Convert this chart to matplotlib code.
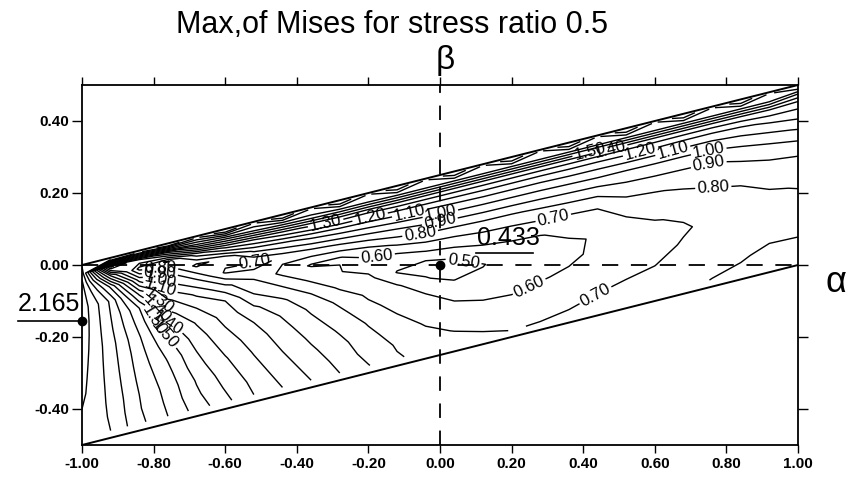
import numpy as np
import matplotlib
matplotlib.use("Agg")
import matplotlib.pyplot as plt

plt.rcParams['font.family'] = ['Liberation Sans', 'DejaVu Sans']

# ---------------- data ----------------
# grid nodes: alpha (columns) and relative height v across the strip
# (v = 0 lower edge, v = 1 upper edge; beta = (alpha - 1)/4 + v/2)
alpha_nodes = [-1.00, -0.92, -0.84, -0.76, -0.68, -0.60, -0.52, -0.44, -0.36,
               -0.28, -0.20, -0.12, -0.04, 0.04, 0.12, 0.20, 0.28, 0.36,
               0.44, 0.52, 0.60, 0.68, 0.76, 0.84, 0.92, 1.00]
v_nodes = [0.04, 0.12, 0.20, 0.28, 0.36, 0.44, 0.52, 0.60, 0.68, 0.76,
           0.84, 0.90, 0.95, 0.99]

# estimated Mises values, one list per alpha column (bottom -> top)
mises_by_alpha = [
    [2.06, 2.08, 2.10, 2.12, 2.13, 2.14, 2.15, 2.16, 2.165, 2.16, 2.15, 2.12, 2.06, 2.00],
    [2.00, 1.99, 1.98, 1.97, 1.96, 1.95, 1.94, 1.92, 1.90, 1.88, 1.68, 1.30, 0.78, 1.90],
    [1.83, 1.81, 1.80, 1.78, 1.76, 1.74, 1.71, 1.66, 1.60, 1.38, 1.05, 0.76, 1.00, 1.78],
    [1.70, 1.68, 1.66, 1.63, 1.59, 1.53, 1.45, 1.34, 1.22, 1.05, 0.89, 0.69, 1.20, 1.98],
    [1.56, 1.52, 1.49, 1.44, 1.40, 1.35, 1.29, 1.20, 1.08, 0.90, 0.67, 0.95, 1.47, 1.78],
    [1.43, 1.39, 1.35, 1.31, 1.26, 1.21, 1.16, 1.10, 0.93, 0.685, 0.74, 1.13, 1.55, 1.98],
    [1.30, 1.27, 1.23, 1.19, 1.15, 1.10, 1.02, 0.90, 0.80, 0.655, 0.92, 1.20, 1.60, 1.78],
    [1.20, 1.16, 1.12, 1.08, 1.04, 0.99, 0.92, 0.80, 0.67, 0.725, 0.98, 1.27, 1.65, 1.98],
    [1.10, 1.06, 1.02, 0.98, 0.93, 0.88, 0.80, 0.68, 0.59, 0.775, 1.04, 1.32, 1.68, 1.78],
    [1.00, 0.965, 0.93, 0.885, 0.835, 0.775, 0.68, 0.605, 0.595, 0.815, 1.08, 1.35, 1.70, 1.98],
    [0.905, 0.86, 0.83, 0.79, 0.73, 0.68, 0.63, 0.55, 0.65, 0.86, 1.10, 1.34, 1.70, 1.78],
    [0.81, 0.79, 0.75, 0.705, 0.66, 0.615, 0.495, 0.55, 0.72, 0.90, 1.12, 1.36, 1.72, 1.98],
    [0.77, 0.73, 0.69, 0.645, 0.60, 0.51, 0.455, 0.607, 0.765, 0.93, 1.13, 1.36, 1.72, 1.78],
    [0.745, 0.695, 0.65, 0.60, 0.54, 0.45, 0.51, 0.633, 0.775, 0.95, 1.14, 1.36, 1.72, 1.98],
    [0.715, 0.675, 0.625, 0.58, 0.53, 0.495, 0.56, 0.665, 0.79, 0.96, 1.15, 1.36, 1.72, 1.78],
    [0.698, 0.667, 0.618, 0.577, 0.53, 0.55, 0.585, 0.675, 0.795, 0.965, 1.15, 1.36, 1.72, 1.98],
    [0.702, 0.675, 0.63, 0.595, 0.565, 0.56, 0.595, 0.69, 0.808, 0.97, 1.15, 1.36, 1.72, 1.78],
    [0.71, 0.685, 0.645, 0.61, 0.585, 0.585, 0.627, 0.70, 0.82, 0.98, 1.16, 1.36, 1.72, 1.98],
    [0.72, 0.70, 0.67, 0.64, 0.615, 0.61, 0.64, 0.707, 0.83, 0.99, 1.16, 1.36, 1.72, 1.78],
    [0.74, 0.715, 0.685, 0.66, 0.635, 0.645, 0.71, 0.78, 0.87, 0.99, 1.17, 1.36, 1.72, 1.98],
    [0.76, 0.73, 0.698, 0.67, 0.662, 0.695, 0.74, 0.795, 0.88, 0.995, 1.17, 1.36, 1.72, 1.78],
    [0.78, 0.76, 0.735, 0.708, 0.69, 0.712, 0.765, 0.81, 0.885, 0.995, 1.16, 1.36, 1.72, 1.98],
    [0.802, 0.775, 0.752, 0.73, 0.722, 0.745, 0.785, 0.825, 0.89, 1.00, 1.16, 1.36, 1.72, 1.78],
    [0.81, 0.795, 0.77, 0.75, 0.748, 0.77, 0.80, 0.855, 0.92, 1.03, 1.18, 1.37, 1.72, 1.98],
    [0.825, 0.81, 0.79, 0.768, 0.768, 0.79, 0.83, 0.88, 0.95, 1.07, 1.22, 1.39, 1.72, 1.78],
    [0.83, 0.808, 0.79, 0.776, 0.78, 0.805, 0.845, 0.895, 0.985, 1.11, 1.25, 1.36, 1.60, 1.90],
]

levels = [0.50, 0.60, 0.70, 0.80, 0.90, 1.00, 1.10, 1.20, 1.30, 1.40,
          1.50, 1.60, 1.70, 1.80, 1.90, 2.00, 2.10]

x_ticks = [-1.0, -0.8, -0.6, -0.4, -0.2, 0.0, 0.2, 0.4, 0.6, 0.8, 1.0]
y_ticks = [0.4, 0.2, 0.0, -0.2, -0.4]

peak_alpha = [0.0, -1.0]
peak_beta = [0.0, -0.156]
peak_value = [0.433, 2.165]

title_text = "Max,of Mises for stress ratio 0.5"

# ---------------- layout ----------------
label_positions = [
    (0.066, 0.012), (-0.176, 0.022), (0.251, -0.064), (-0.517, 0.005),
    (0.316, 0.133), (0.447, -0.106), (-0.056, 0.092), (0.763, 0.222),
    (0.0, 0.119), (0.0, 0.147), (-0.084, 0.142), (-0.196, 0.136),
    (-0.32, 0.119), (0.75, 0.283), (0.75, 0.319), (0.648, 0.325),
    (0.559, 0.319), (0.475, 0.319), (0.419, 0.314),
    (-0.782, -0.003), (-0.782, -0.025), (-0.782, -0.047), (-0.782, -0.069),
    (-0.782, -0.094), (-0.782, -0.117), (-0.782, -0.142), (-0.782, -0.167),
    (-0.782, -0.194),
]

fig = plt.figure(figsize=(8.49, 4.80), dpi=100)
ax = fig.add_axes([82 / 849, 1 - 445 / 480, (798 - 82) / 849, (445 - 85) / 480])

A = np.array(alpha_nodes)[None, :] * np.ones((len(v_nodes), 1))
V = np.array(v_nodes)[:, None] * np.ones((1, len(alpha_nodes)))
B = (A - 1.0) / 4.0 + V / 2.0
Z = np.array(mises_by_alpha).T

cs = ax.contour(A, B, Z, levels=levels, colors='k', linewidths=1.0,
                linestyles='solid')
ax.clabel(cs, fmt='%.2f', fontsize=12, inline=True, inline_spacing=2,
          manual=label_positions)

# domain edges
a_edge = np.array([alpha_nodes[0], alpha_nodes[-1]])
ax.plot(a_edge, (a_edge + 1.0) / 4.0, color='k', lw=1.4)
ax.plot(a_edge, (a_edge - 1.0) / 4.0, color='k', lw=1.4)

# dashed axes through origin
ax.axhline(0.0, color='k', lw=1.3, ls=(0, (9, 7)))
ax.axvline(0.0, color='k', lw=1.3, ls=(0, (8, 7)))

# marked extreme points
ax.plot(peak_alpha, peak_beta, 'o', color='k', ms=6, clip_on=False, zorder=5)
# min
ax.text(peak_alpha[0] + 0.19, peak_beta[0] + 0.075, f"{peak_value[0]:.3f}",
        fontsize=18, ha='center', va='center')
ax.plot([peak_alpha[0] + 0.10, peak_alpha[0] + 0.26],
        [peak_beta[0] + 0.033, peak_beta[0] + 0.033], color='k', lw=1.2)
# max
ax.text(peak_alpha[1] - 0.092, peak_beta[1] + 0.048, f"{peak_value[1]:.3f}",
        fontsize=18, ha='center', va='center', clip_on=False)
ax.plot([peak_alpha[1] - 0.18, peak_alpha[1]], [peak_beta[1], peak_beta[1]],
        color='k', lw=1.2, clip_on=False)

ax.set_xlim(-1.0, 1.0)
ax.set_ylim(-0.5, 0.5)
ax.set_xticks(x_ticks)
ax.set_xticklabels([f"{t:.2f}" if abs(t) > 1e-9 else "0.00" for t in x_ticks],
                   fontweight='bold', fontsize=11)
ax.set_yticks(y_ticks)
ax.set_yticklabels([f"{t:.2f}" if abs(t) > 1e-9 else "0.00" for t in y_ticks],
                   fontweight='bold', fontsize=11)
ax.tick_params(axis='x', direction='out', top=True, length=6, width=1.0, pad=3)
ax.tick_params(axis='y', direction='out', right=True, length=7, width=1.0, pad=2)
for s in ax.spines.values():
    s.set_linewidth(1.3)

fig.text(392 / 849, 1 - 25 / 480, title_text, fontsize=22, ha='center', va='center')
fig.text(445 / 849, 1 - 60 / 480, "β", fontsize=24, ha='center', va='center')
fig.text(836 / 849, 1 - 282 / 480, "α", fontsize=26, ha='center', va='center')

fig.savefig("out.png", dpi=100)
